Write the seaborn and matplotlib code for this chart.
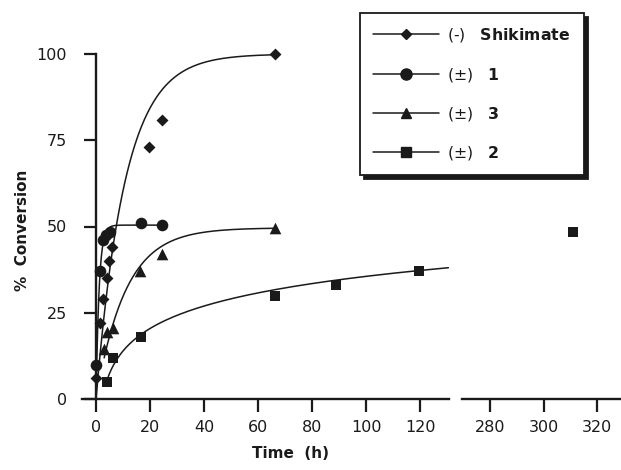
import numpy as np
import matplotlib
matplotlib.use('Agg')
import matplotlib.pyplot as plt
from matplotlib.lines import Line2D
import seaborn as sns


# =========================
# Dados
# =========================

shik_t = [0, 1.5, 2.7, 4, 4.8, 6, 19.6, 24.3, 66.3]
shik_y = [6, 22, 29, 35, 40, 44, 73, 81, 100]

cmp1_t = [0, 1.5, 2.7, 3.8, 5.2, 16.5, 24.3]
cmp1_y = [10, 37, 46, 47.5, 48.5, 51, 50.4]

cmp3_t = [3, 4.2, 6.4, 16.3, 24.3, 66.3]
cmp3_y = [14.5, 19.5, 20.5, 37, 42, 49.6]

cmp2_t = [4, 6.4, 16.5, 66.3, 89, 119.6, 310.9]
cmp2_y = [5, 11.8, 18, 30, 33, 37, 48.5]

legend_labels = ['(-)   $\\mathbf{Shikimate}$', '(\u00b1)   $\\mathbf{1}$',
                 '(\u00b1)   $\\mathbf{3}$', '(\u00b1)   $\\mathbf{2}$']

left_ticks = [0, 20, 40, 60, 80, 100, 120]
right_ticks = [280, 300, 320]
y_ticks = [0, 25, 50, 75, 100]


# =========================
# Ajustes das curvas
# =========================

def fit_first_order(t, y):
    # y = A (1 - exp(-k t)), A = ultimo valor (plato), busca em k
    t = np.asarray(t, float)
    y = np.asarray(y, float)
    a = y[-1]
    ks = np.linspace(0.01, 3, 3000)
    errs = [((a * (1 - np.exp(-k * t)) - y) ** 2).sum() for k in ks]
    return a, ks[int(np.argmin(errs))]


# =========================
# Figura
# =========================

sns.set_theme(style='white')
plt.rcParams['font.family'] = ['DejaVu Sans']
plt.rcParams['mathtext.fontset'] = 'dejavusans'
for key in ('text.color', 'axes.labelcolor', 'xtick.color', 'ytick.color'):
    plt.rcParams[key] = 'k'

fig = plt.figure(figsize=(6.21, 4.70), dpi=100)
ax = fig.add_axes([82 / 621, 71 / 470, (449 - 82) / 621, 345 / 470])
ax2 = fig.add_axes([462 / 621, 71 / 470, (621 - 462) / 621, 345 / 470])

series = [
    (shik_t, shik_y, 'D', 37, 'first'),
    (cmp1_t, cmp1_y, 'o', 70, 'first'),
    (cmp3_t, cmp3_y, '^', 70, 'first'),
    (cmp2_t, cmp2_y, 's', 62, 'log'),
]

for t, y, mk, size, model in series:
    t = np.asarray(t, float)
    y = np.asarray(y, float)
    left = t < 131
    if model == 'first':
        a, k = fit_first_order(t, y)
        tt = np.linspace(t.min(), t.max(), 300)
        yy = a * (1 - np.exp(-k * tt))
    else:
        # y = a + b ln(t)
        b, a = np.polyfit(np.log(t), y, 1)
        tt = np.linspace(t.min(), 130.5, 300)
        yy = a + b * np.log(tt)

    sns.lineplot(x=tt, y=yy, ax=ax, color='k', lw=1.1,
                 estimator=None, sort=False, zorder=2)
    sns.scatterplot(x=t[left], y=y[left], ax=ax, marker=mk, s=size,
                    color='k', edgecolor='k', linewidth=0,
                    clip_on=False, zorder=3)
    if (~left).any():
        sns.scatterplot(x=t[~left], y=y[~left], ax=ax2, marker=mk,
                        s=size, color='k', edgecolor='k', linewidth=0,
                        clip_on=False, zorder=3)

for a_ in (ax, ax2):
    a_.set_facecolor('white')
    a_.set_ylim(0, 100)
    a_.set_xlabel('')
    a_.set_ylabel('')
    for s in ('top', 'right'):
        a_.spines[s].set_visible(False)
    a_.spines['bottom'].set_linewidth(1.7)
    a_.spines['bottom'].set_color('k')
    a_.tick_params(axis='x', direction='out', length=9, width=1.6,
                   color='k', labelcolor='k', labelsize=11.5, pad=6,
                   bottom=True)

ax.set_xlim(-5.2, 130.7)
ax.set_xticks(left_ticks)
ax.spines['left'].set_position(('data', 0))
ax.spines['left'].set_linewidth(1.7)
ax.spines['left'].set_color('k')
ax.set_yticks(y_ticks)
ax.tick_params(axis='y', direction='out', length=9, width=1.6,
               color='k', labelcolor='k', labelsize=11.5, pad=12, left=True)

ax2.set_xlim(269.5, 329)
ax2.set_xticks(right_ticks)
ax2.spines['left'].set_visible(False)
ax2.set_yticks([])

fig.text(290 / 621, 1 - 453 / 470, 'Time  (h)', ha='center', va='center',
         fontsize=11, fontweight='bold')
fig.text(23 / 621, 1 - 230 / 470, '%  Conversion', ha='center',
         va='center', rotation=90, fontsize=11, fontweight='bold')

handles = [
    Line2D([], [], color='k', lw=1.1, marker='D', ms=5),
    Line2D([], [], color='k', lw=1.1, marker='o', ms=8),
    Line2D([], [], color='k', lw=1.1, marker='^', ms=7.5),
    Line2D([], [], color='k', lw=1.1, marker='s', ms=7),
]
leg = fig.legend(handles, legend_labels, loc='upper left',
                 bbox_to_anchor=(360 / 621, 1 - 13 / 470),
                 borderaxespad=0, fontsize=11.3, frameon=True, fancybox=False,
                 handlelength=4.2, handletextpad=0.5, borderpad=0.85,
                 labelspacing=1.35,
                 shadow={'ox': 3, 'oy': -3, 'color': 'k', 'alpha': 1})
leg.get_frame().set_edgecolor('k')
leg.get_frame().set_linewidth(1.3)
leg.get_frame().set_facecolor('white')
leg.get_frame().set_alpha(1)

plt.savefig('out.png', dpi=100)
